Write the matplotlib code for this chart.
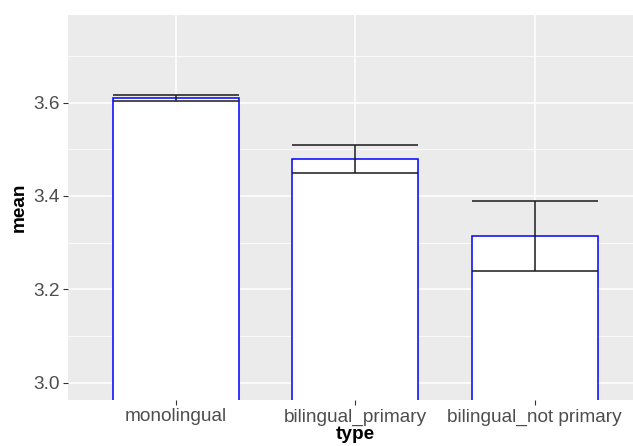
import numpy as np
import matplotlib
matplotlib.use('Agg')
from matplotlib import pyplot as plt

# group means and standard errors
types = ["monolingual", "bilingual_primary", "bilingual_not primary"]
means = [3.610, 3.479, 3.313]
se = [0.0065, 0.0305, 0.075]

y_ticks = [3.0, 3.2, 3.4, 3.6]
y_minor = [3.1, 3.3, 3.5, 3.7]

plt.rcParams['font.family'] = ['Liberation Sans', 'DejaVu Sans']

fig = plt.figure(figsize=(6.33, 4.46), dpi=100)
# panel runs past the right edge of the figure
ax = fig.add_axes([68 / 633, 46 / 446, 574.5 / 633, 385 / 446])
ax.set_facecolor('#EBEBEB')
for s in ax.spines.values():
    s.set_visible(False)

x = np.arange(1, len(types) + 1)
means = np.array(means)
se = np.array(se)

# grid
for v in y_ticks:
    ax.axhline(v, color='white', lw=1.1, zorder=0)
for v in y_minor:
    ax.axhline(v, color='white', lw=0.55, zorder=0)
for v in x:
    ax.axvline(v, color='white', lw=1.1, zorder=0)

ax.bar(x, means, width=0.7, color='white', edgecolor='blue', linewidth=1.1, zorder=2)

# error bars, same width as the bars
ax.hlines(means + se, x - 0.35, x + 0.35, color='#1a1a1a', lw=1.1, zorder=3)
ax.hlines(means - se, x - 0.35, x + 0.35, color='#1a1a1a', lw=1.1, zorder=3)
ax.vlines(x, means - se, means + se, color='#1a1a1a', lw=1.1, zorder=3)

lo, hi = 3.0, 3.75
pad = (hi - lo) * 0.05
ax.set_ylim(lo - pad, hi + pad)
ax.set_xlim(0.4, 3.6)

ax.set_yticks(y_ticks)
ax.set_yticklabels(["%.1f" % v for v in y_ticks])
ax.set_xticks(x)
ax.set_xticklabels(types)
ax.tick_params(axis='both', colors='#333333', length=3.5, width=0.8,
               labelsize=13.7, labelcolor='#4D4D4D', pad=2.5)

ax.set_xlabel("type", fontsize=13.7, fontweight='bold', labelpad=0)
ax.set_ylabel("mean", fontsize=13.7, fontweight='bold', labelpad=4)

fig.savefig("out.png", dpi=100)
